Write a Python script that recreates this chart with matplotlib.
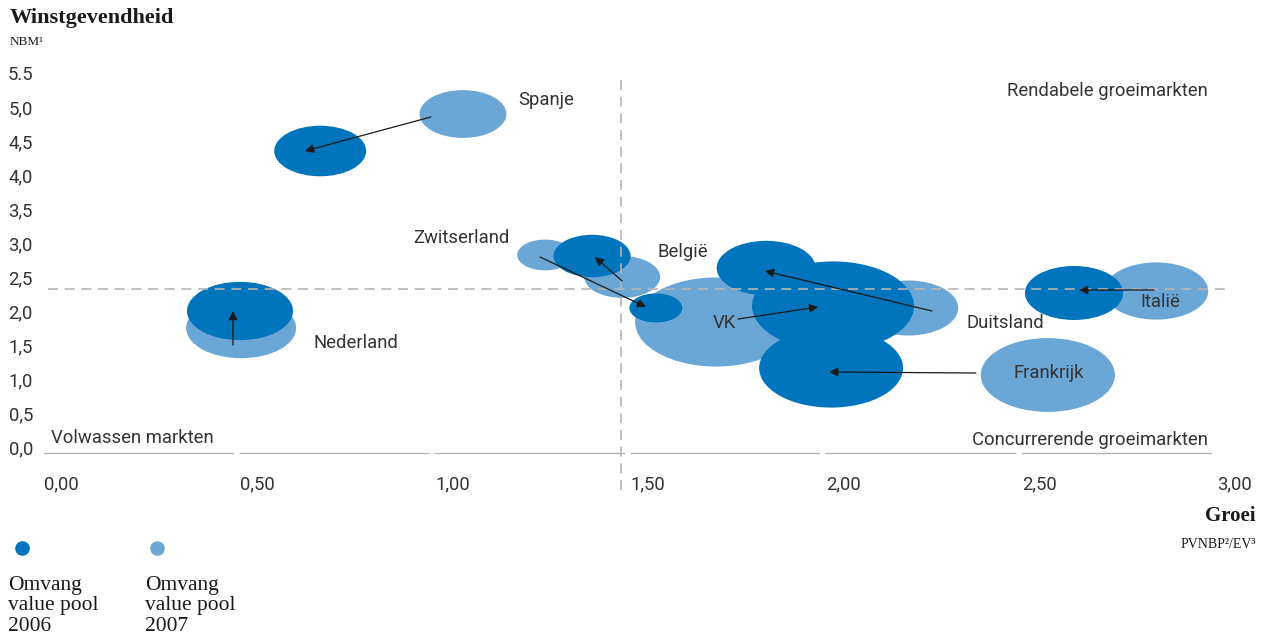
import matplotlib
matplotlib.use("Agg")
import matplotlib.pyplot as plt
from matplotlib.patches import Ellipse
from matplotlib.lines import Line2D

# ---------------- data ----------------
countries = ["Spanje", "Nederland", "Zwitserland", "België", "VK",
             "Duitsland", "Frankrijk", "Italië"]
# growth (x) and profitability (y) per year
x_2006 = [0.706, 0.501, 1.564, 1.401, 2.017, 1.846, 2.012, 2.633]
y_2006 = [4.353, 2.000, 2.044, 2.809, 2.074, 2.632, 1.162, 2.265]
x_2007 = [1.071, 0.504, 1.281, 1.478, 1.718, 2.209, 2.566, 2.843]
y_2007 = [4.897, 1.750, 2.824, 2.500, 1.838, 2.044, 1.059, 2.294]
# value pool size (bubble width, in growth units)
size_2006 = [0.235, 0.271, 0.135, 0.197, 0.414, 0.253, 0.368, 0.251]
size_2007 = [0.222, 0.281, 0.143, 0.194, 0.414, 0.256, 0.343, 0.266]
# arrows (start -> tip)
arrow_x0 = [0.989, 0.483, 1.268, 1.478, 1.774, 2.270, 2.382, 2.837]
arrow_y0 = [4.853, 1.500, 2.794, 2.441, 1.882, 2.000, 1.088, 2.309]
arrow_x1 = [0.667, 0.483, 1.539, 1.408, 1.979, 1.843, 2.007, 2.646]
arrow_y1 = [4.353, 2.000, 2.059, 2.794, 2.059, 2.588, 1.103, 2.309]
# country label positions
label_x = [1.212, 0.688, 1.189, 1.567, 1.710, 2.357, 2.477, 2.802]
label_y = [5.103, 1.529, 3.074, 2.868, 1.824, 1.824, 1.088, 2.132]
label_ha = ["left", "left", "right", "left", "left", "left", "left", "left"]

x_ticks = [0.0, 0.5, 1.0, 1.5, 2.0, 2.5, 3.0]
x_ticklabels = ["0,00", "0,50", "1,00", "1,50", "2,00", "2,50", "3,00"]
y_ticks = [0.0, 0.5, 1.0, 1.5, 2.0, 2.5, 3.0, 3.5, 4.0, 4.5, 5.0, 5.5]
y_ticklabels = ["0,0", "0,5", "1,0", "1,5", "2,0", "2,5", "3,0", "3,5",
                "4,0", "4,5", "5,0", "5.5"]
growth_threshold = 1.475
profit_threshold = 2.33

DARK = "#0074BC"
LIGHT = "#6AA6D6"
TXT = "#333333"
GRID = "#b5b5b5"
SANS = ["Roboto", "Liberation Sans", "DejaVu Sans"]
SERIF = ["Liberation Serif", "DejaVu Serif"]
FS = 13.3
FW = "normal"

W, H = 1266, 643
fig = plt.figure(figsize=(W / 100, H / 100), dpi=100)

# axes placement (pixels)
ax_l, ax_r, ax_t, ax_b = 44, 1225, 60, 470
ax = fig.add_axes([ax_l / W, 1 - ax_b / H, (ax_r - ax_l) / W, (ax_b - ax_t) / H])
px_per_x = 391.2
px_per_y = 68.0
ax.set_xlim(0, (ax_r - ax_l) / px_per_x)
ax.set_ylim(-(ax_b - 447) / px_per_y, (447 - ax_t) / px_per_y)
for s in ax.spines.values():
    s.set_visible(False)

ax.set_xticks(x_ticks)
ax.set_xticklabels(x_ticklabels, ha="left", fontsize=FS, color=TXT, family=SANS,
                   fontweight=FW)
ax.set_yticks(y_ticks)
ax.set_yticklabels(y_ticklabels, fontsize=FS, color=TXT, family=SANS,
                   fontweight=FW)
ax.tick_params(axis="both", length=0)
ax.tick_params(axis="x", pad=4)
ax.tick_params(axis="y", pad=8)

# ellipse aspect: height (px) = 0.55 * width (px)
aspect = 0.55
def add_bubble(x, y, w, color):
    h = w * px_per_x * aspect / px_per_y
    ax.add_patch(Ellipse((x, y), w, h, facecolor=color, edgecolor="none", zorder=2))

for x, y, s in zip(x_2007, y_2007, size_2007):
    add_bubble(x, y, s, LIGHT)
for x, y, s in zip(x_2006, y_2006, size_2006):
    add_bubble(x, y, s, DARK)

# quadrant lines
ax.plot([0.01, 3.02], [profit_threshold, profit_threshold], color=GRID, lw=1.2,
        ls=(0, (6, 4)), zorder=3, clip_on=False)
ax.plot([growth_threshold, growth_threshold], [5.40, -0.63], color=GRID, lw=1.2,
        ls=(0, (6, 4)), zorder=3, clip_on=False)

# axis segments
for xt in x_ticks[:-1]:
    ax.plot([xt, xt + 0.482], [-0.088, -0.088], color=GRID, lw=1.0, zorder=1,
            clip_on=False)

# arrows
for x0, y0, x1, y1 in zip(arrow_x0, arrow_y0, arrow_x1, arrow_y1):
    ax.annotate("", xy=(x1, y1), xytext=(x0, y0),
                arrowprops=dict(arrowstyle="-|>", color="#1a1a1a", lw=0.9,
                                mutation_scale=13, shrinkA=0, shrinkB=0),
                zorder=4)

# country labels
for name, lx, ly, ha in zip(countries, label_x, label_y, label_ha):
    ax.text(lx, ly, name, fontsize=FS, color=TXT, family=SANS, fontweight=FW,
            ha=ha, va="center", zorder=5)

# quadrant labels
ax.text(2.974, 5.235, "Rendabele groeimarkten", fontsize=FS, color=TXT,
        family=SANS, fontweight=FW, ha="right", va="center")
ax.text(0.018, 0.13, "Volwassen markten", fontsize=FS, color=TXT,
        family=SANS, fontweight=FW, ha="left", va="center")
ax.text(2.974, 0.10, "Concurrerende groeimarkten", fontsize=FS, color=TXT,
        family=SANS, fontweight=FW, ha="right", va="center")

# titles
fig.text(10 / W, 1 - 18 / H, "Winstgevendheid", fontsize=16, fontweight="bold",
         family=SERIF, color="#1a1a1a", ha="left", va="center")
fig.text(10 / W, 1 - 42 / H, "NBM¹", fontsize=9.5, family=SERIF,
         color="#1a1a1a", ha="left", va="center")
fig.text(1256 / W, 1 - 516 / H, "Groei", fontsize=15, fontweight="bold",
         family=SERIF, color="#1a1a1a", ha="right", va="center")
fig.text(1256 / W, 1 - 545 / H, "PVNBP²/EV³", fontsize=10, family=SERIF,
         color="#1a1a1a", ha="right", va="center")

# legend
legend_items = [("Omvang\nvalue pool\n2006", DARK, 22, 8),
                ("Omvang\nvalue pool\n2007", LIGHT, 157, 145)]
for txt, col, dot_x, tx in legend_items:
    fig.add_artist(Line2D([dot_x / W], [1 - 548 / H], marker="o", markersize=10.5,
                          color=col, markeredgewidth=0, linestyle="none",
                          transform=fig.transFigure))
    fig.text(tx / W, 1 - 576 / H, txt, fontsize=15.5, family=SERIF,
             color="#1a1a1a", ha="left", va="top", linespacing=1.1)

fig.savefig("out.png", dpi=100)
